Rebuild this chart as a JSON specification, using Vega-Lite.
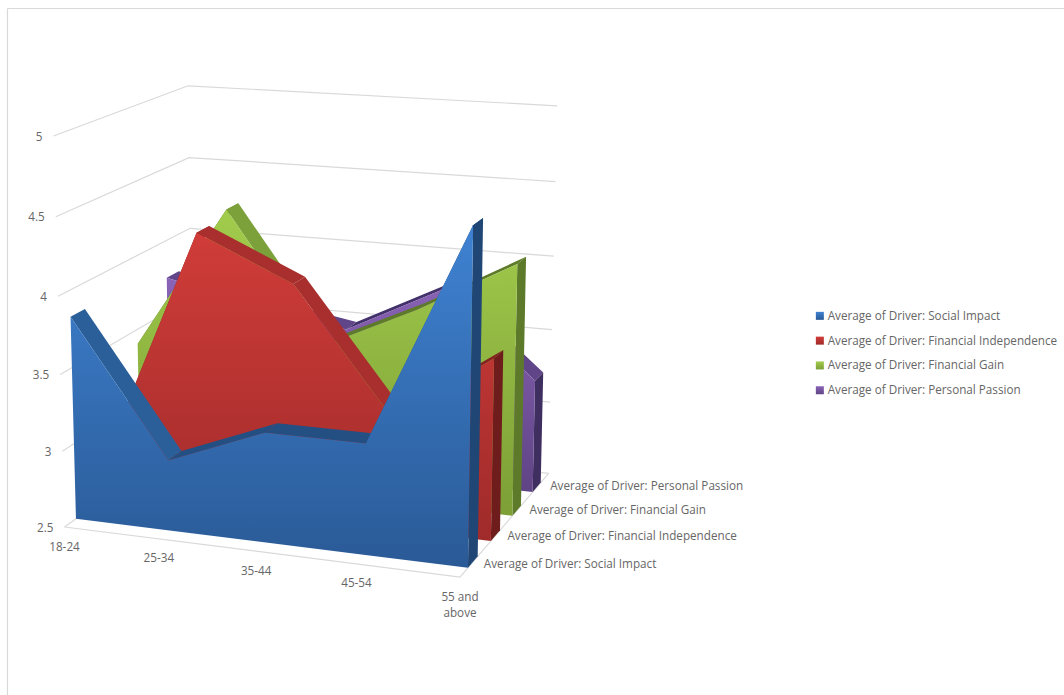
{
  "$schema": "https://vega.github.io/schema/vega-lite/v6.json",
  "width": 1057,
  "height": 687,
  "autosize": "none",
  "padding": {"left": 7, "top": 8, "right": 0, "bottom": 0},
  "background": "white",
  "config": {"view": {"stroke": null}},
  "encoding": {
    "x": {"field": "X", "type": "quantitative", "scale": {"domain": [7, 1064], "nice": false, "zero": false},
      "axis": {"orient": "top", "title": null, "labels": false, "ticks": false, "grid": false, "domainColor": "#d9d9d9", "domainWidth": 1.2}},
    "y": {"field": "Y", "type": "quantitative", "scale": {"domain": [695, 8], "nice": false, "zero": false},
      "axis": {"orient": "left", "title": null, "labels": false, "ticks": false, "grid": false, "domainColor": "#d9d9d9", "domainWidth": 1.2}}
  },
  "layer": [
    {
      "data": {"values": [
        {"value": 2.5, "plane": "wall"},
        {"value": 3, "plane": "wall"},
        {"value": 3.5, "plane": "wall"},
        {"value": 4, "plane": "wall"},
        {"value": 4.5, "plane": "wall"},
        {"value": 5, "plane": "wall"},
        {"value": 2.5, "plane": "floor"}
      ]},
      "transform": [
        {"calculate": "[0,1,2]", "as": "corner"},
        {"flatten": ["corner"]},
        {"calculate": "(datum.value-2.5)/2.5", "as": "T"},
        {"calculate": "datum.plane=='floor' ? (datum.corner>=1?1:0) : (datum.corner==2?1:0)", "as": "U"},
        {"calculate": "datum.plane=='floor' ? (datum.corner==2?1:0) : (datum.corner>=1?1:0)", "as": "W"},
        {"calculate": "1-0.06*datum.U-0.04*datum.T+0.127*datum.W", "as": "den"},
        {"calculate": "(64.5+367.9*datum.U-13.14*datum.T+153*datum.W)/datum.den", "as": "X"},
        {"calculate": "(527+15.4*datum.U-396.44*datum.T-37.3*datum.W)/datum.den", "as": "Y"},
        {"calculate": "datum.plane+datum.value", "as": "gridline"}
      ],
      "mark": {"type": "line", "stroke": "#d9d9d9", "strokeWidth": 1.2},
      "encoding": {
        "detail": {"field": "gridline"},
        "order": {"field": "corner", "type": "quantitative"}
      }
    },
    {
      "data": {"values": [
        {"tick": "2.5"}, {"tick": "3"}, {"tick": "3.5"}, {"tick": "4"}, {"tick": "4.5"}, {"tick": "5"}
      ]},
      "transform": [
        {"calculate": "(toNumber(datum.tick)-2.5)/2.5", "as": "T"},
        {"calculate": "1-0.04*datum.T", "as": "den"},
        {"calculate": "(64.5-13.14*datum.T)/datum.den", "as": "X"},
        {"calculate": "(527-396.44*datum.T)/datum.den", "as": "Y"}
      ],
      "mark": {"type": "text", "align": "right", "baseline": "middle", "dx": -11, "dy": 0.5, "font": "Open Sans", "fontSize": 11.7, "fill": "#666666"},
      "encoding": {"text": {"field": "tick", "type": "nominal"}}
    },
    {
      "data": {"values": [
        {"age": "18-24", "pos": 0},
        {"age": "25-34", "pos": 1},
        {"age": "35-44", "pos": 2},
        {"age": "45-54", "pos": 3},
        {"age": "55 and\nabove", "pos": 4}
      ]},
      "transform": [
        {"calculate": "datum.pos/4", "as": "U"},
        {"calculate": "1-0.06*datum.U", "as": "den"},
        {"calculate": "(64.5+367.9*datum.U)/datum.den", "as": "X"},
        {"calculate": "(527+15.4*datum.U)/datum.den", "as": "Y"}
      ],
      "mark": {"type": "text", "align": "center", "baseline": "middle", "dy": 19.5, "lineBreak": "\n", "lineHeight": 16, "font": "Open Sans", "fontSize": 11.7, "fill": "#666666"},
      "encoding": {"text": {"field": "age", "type": "nominal"}}
    },
    {
      "data": {"values": [
        {"series": "Average of Driver: Social Impact", "pos": 0},
        {"series": "Average of Driver: Financial Independence", "pos": 1},
        {"series": "Average of Driver: Financial Gain", "pos": 2},
        {"series": "Average of Driver: Personal Passion", "pos": 3}
      ]},
      "transform": [
        {"calculate": "0.125+0.25*datum.pos", "as": "W"},
        {"calculate": "0.94+0.127*datum.W", "as": "den"},
        {"calculate": "(432.4+153*datum.W)/datum.den", "as": "X"},
        {"calculate": "(542.4-37.3*datum.W)/datum.den", "as": "Y"}
      ],
      "mark": {"type": "text", "align": "left", "baseline": "middle", "dx": 11.5, "dy": 1, "font": "Open Sans", "fontSize": 11.7, "fill": "#666666"},
      "encoding": {"text": {"field": "series", "type": "nominal"}}
    },
    {
      "data": {"values": [
        {"series": "Average of Driver: Social Impact", "age": "18-24", "value": 3.83},
        {"series": "Average of Driver: Social Impact", "age": "25-34", "value": 2.96},
        {"series": "Average of Driver: Social Impact", "age": "35-44", "value": 3.21},
        {"series": "Average of Driver: Social Impact", "age": "45-54", "value": 3.21},
        {"series": "Average of Driver: Social Impact", "age": "55 and above", "value": 4.6},
        {"series": "Average of Driver: Financial Independence", "age": "18-24", "value": 2.8},
        {"series": "Average of Driver: Financial Independence", "age": "25-34", "value": 4.31},
        {"series": "Average of Driver: Financial Independence", "age": "35-44", "value": 4.03},
        {"series": "Average of Driver: Financial Independence", "age": "45-54", "value": 3.23},
        {"series": "Average of Driver: Financial Independence", "age": "55 and above", "value": 3.67},
        {"series": "Average of Driver: Financial Gain", "age": "18-24", "value": 3.4},
        {"series": "Average of Driver: Financial Gain", "age": "25-34", "value": 4.36},
        {"series": "Average of Driver: Financial Gain", "age": "35-44", "value": 3.5},
        {"series": "Average of Driver: Financial Gain", "age": "45-54", "value": 3.8},
        {"series": "Average of Driver: Financial Gain", "age": "55 and above", "value": 4.15},
        {"series": "Average of Driver: Personal Passion", "age": "18-24", "value": 3.74},
        {"series": "Average of Driver: Personal Passion", "age": "25-34", "value": 3.6},
        {"series": "Average of Driver: Personal Passion", "age": "35-44", "value": 3.49},
        {"series": "Average of Driver: Personal Passion", "age": "45-54", "value": 3.81},
        {"series": "Average of Driver: Personal Passion", "age": "55 and above", "value": 3.26}
      ]},
      "transform": [
        {"calculate": "indexof(['Average of Driver: Social Impact','Average of Driver: Financial Independence','Average of Driver: Financial Gain','Average of Driver: Personal Passion'],datum.series)", "as": "d"},
        {"calculate": "indexof(['18-24','25-34','35-44','45-54','55 and above'],datum.age)/4", "as": "u"},
        {"window": [{"op": "lead", "field": "value", "as": "next"}], "groupby": ["series"], "sort": [{"field": "u", "order": "ascending"}]},
        {"calculate": "0.08+0.24*datum.d", "as": "wf"},
        {"calculate": "(datum.value-2.5)/2.5", "as": "t"},
        {"calculate": "(datum.next-2.5)/2.5", "as": "t2"},
        {"calculate": "['end','top','front']", "as": "kind"},
        {"flatten": ["kind"]},
        {"filter": "datum.kind=='front' || (datum.kind=='end' ? datum.u==1 : datum.u<1)"},
        {"calculate": "[0,1,2,3]", "as": "corner"},
        {"flatten": ["corner"]},
        {"filter": "datum.kind!='front' || datum.corner<2"},
        {"calculate": "datum.kind=='top' && (datum.corner==1||datum.corner==2) ? datum.u+0.25 : datum.u", "as": "U"},
        {"calculate": "datum.kind=='front' ? (datum.corner==1?0:datum.t) : datum.kind=='end' ? ((datum.corner==1||datum.corner==2)?0:datum.t) : ((datum.corner==1||datum.corner==2)?datum.t2:datum.t)", "as": "T"},
        {"calculate": "datum.kind!='front' && datum.corner>=2 ? datum.wf+0.1 : datum.wf", "as": "W"},
        {"calculate": "datum.kind=='front' ? (datum.corner==0?datum.u:2-datum.u) : datum.corner", "as": "ord"},
        {"calculate": "datum.series+' '+datum.kind+(datum.kind=='top'?datum.u:'')", "as": "poly"},
        {"calculate": "datum.kind=='front' ? datum.series : datum.series+(datum.kind=='end' ? '|end' : (datum.next>=datum.value ? '|rising' : '|falling'))", "as": "face"},
        {"calculate": "1-0.06*datum.U-0.04*datum.T+0.127*datum.W", "as": "den"},
        {"calculate": "(64.5+367.9*datum.U-13.14*datum.T+153*datum.W)/datum.den", "as": "X"},
        {"calculate": "(527+15.4*datum.U-396.44*datum.T-37.3*datum.W)/datum.den", "as": "Y"}
      ],
      "encoding": {
        "detail": {"field": "poly"},
        "order": {"field": "ord", "type": "quantitative"},
        "fill": {
          "field": "face",
          "type": "nominal",
          "scale": {
            "domain": [
              "Average of Driver: Social Impact",
              "Average of Driver: Financial Independence",
              "Average of Driver: Financial Gain",
              "Average of Driver: Personal Passion",
              "Average of Driver: Social Impact|rising",
              "Average of Driver: Social Impact|falling",
              "Average of Driver: Social Impact|end",
              "Average of Driver: Financial Independence|rising",
              "Average of Driver: Financial Independence|falling",
              "Average of Driver: Financial Independence|end",
              "Average of Driver: Financial Gain|rising",
              "Average of Driver: Financial Gain|falling",
              "Average of Driver: Financial Gain|end",
              "Average of Driver: Personal Passion|rising",
              "Average of Driver: Personal Passion|falling",
              "Average of Driver: Personal Passion|end"
            ],
            "range": [
              {"expr": "{gradient:'linear',x1:0,y1:0,x2:0,y2:1,stops:[{offset:0,color:'#3f82d2'},{offset:1,color:'#2a5a96'}]}"},
              {"expr": "{gradient:'linear',x1:0,y1:0,x2:0,y2:1,stops:[{offset:0,color:'#d03c39'},{offset:1,color:'#9f2b2a'}]}"},
              {"expr": "{gradient:'linear',x1:0,y1:0,x2:0,y2:1,stops:[{offset:0,color:'#a2cc4c'},{offset:1,color:'#7d9f36'}]}"},
              {"expr": "{gradient:'linear',x1:0,y1:0,x2:0,y2:1,stops:[{offset:0,color:'#8a63b6'},{offset:1,color:'#5f4485'}]}"},
              "#234f82", "#2b5f99", "#1f4674",
              "#842322", "#a92f2e", "#6f1d1c",
              "#5c7a28", "#7da13a", "#5d7a2a",
              "#43316b", "#604589", "#3f2e60"
            ]
          },
          "legend": {
            "values": [
              "Average of Driver: Social Impact",
              "Average of Driver: Financial Independence",
              "Average of Driver: Financial Gain",
              "Average of Driver: Personal Passion"
            ],
            "title": null,
            "orient": "none",
            "legendX": 807,
            "legendY": 302,
            "symbolType": "square",
            "symbolSize": 64,
            "symbolStrokeWidth": 0,
            "rowPadding": 11.8,
            "labelFont": "Open Sans",
            "labelFontSize": 11.7,
            "labelColor": "#666666",
            "labelOffset": 2,
            "labelLimit": 300
          }
        }
      },
      "layer": [
        {"transform": [{"filter": "datum.d==3 && datum.kind!='front'"}], "mark": {"type": "line", "interpolate": "linear-closed", "strokeWidth": 0}},
        {"transform": [{"filter": "datum.d==3 && datum.kind=='front'"}], "mark": {"type": "line", "interpolate": "linear-closed", "strokeWidth": 0}},
        {"transform": [{"filter": "datum.d==2 && datum.kind!='front'"}], "mark": {"type": "line", "interpolate": "linear-closed", "strokeWidth": 0}},
        {"transform": [{"filter": "datum.d==2 && datum.kind=='front'"}], "mark": {"type": "line", "interpolate": "linear-closed", "strokeWidth": 0}},
        {"transform": [{"filter": "datum.d==1 && datum.kind!='front'"}], "mark": {"type": "line", "interpolate": "linear-closed", "strokeWidth": 0}},
        {"transform": [{"filter": "datum.d==1 && datum.kind=='front'"}], "mark": {"type": "line", "interpolate": "linear-closed", "strokeWidth": 0}},
        {"transform": [{"filter": "datum.d==0 && datum.kind!='front'"}], "mark": {"type": "line", "interpolate": "linear-closed", "strokeWidth": 0}},
        {"transform": [{"filter": "datum.d==0 && datum.kind=='front'"}], "mark": {"type": "line", "interpolate": "linear-closed", "strokeWidth": 0}}
      ]
    }
  ]
}
